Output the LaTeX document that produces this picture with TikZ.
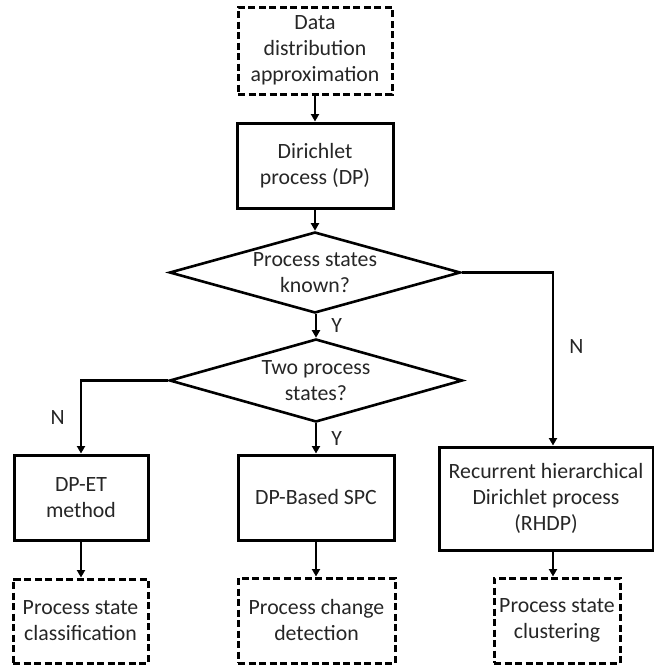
\documentclass[tikz,border=0pt]{standalone}
\usepackage{fontspec}
\setmainfont{Carlito}
\usetikzlibrary{shapes.geometric,arrows.meta}
\begin{document}
\begin{tikzpicture}[x=1pt,y=-1pt,
  font=\fontsize{21.8}{26}\selectfont,
  every node/.style={text=black!85},
  stepbox/.style={draw=black, line width=3pt, align=center, inner sep=1pt},
  goalbox/.style={stepbox, dash pattern=on 7pt off 3.5pt},
  decide/.style={shape=diamond, draw=black, line width=2.6pt, inner sep=0pt},
  flow/.style={draw=black, line width=2.6pt, -{Triangle[length=7.5pt,width=8pt]}},
  branch/.style={inner sep=1pt}]
\useasboundingbox (0,0) rectangle (654,665);

% top of the chart
\node[goalbox, minimum width=154pt, minimum height=87pt] (data) at (315,50.5)
  {Data\\distribution\\approximation};
\node[stepbox, minimum width=156pt, minimum height=85pt] (dp) at (315,165.5)
  {Dirichlet\\process (DP)};

% decisions
\node[decide, minimum width=291pt, minimum height=81pt,
  label={[align=center]center:Process states\\known?}] (known) at (315,272.5) {};
\node[decide, minimum width=293pt, minimum height=83pt,
  label={[align=center]center:Two process\\states?}] (two) at (316,380.5) {};

% methods
\node[stepbox, minimum width=134pt, minimum height=85pt] (dpet) at (81,497.5)
  {DP-ET\\method};
\node[stepbox, minimum width=156pt, minimum height=85pt] (spc) at (316,497.5)
  {DP-Based SPC};
\node[stepbox, minimum width=214pt, minimum height=103pt] (rhdp) at (546,498.5)
  {Recurrent hierarchical\\Dirichlet process\\(RHDP)};

% outcomes
\node[goalbox, minimum width=135pt, minimum height=84pt] (cls) at (80.5,621)
  {Process state\\classification};
\node[goalbox, minimum width=157pt, minimum height=85pt] (chg) at (316.5,620.5)
  {Process change\\detection};
\node[goalbox, minimum width=126pt, minimum height=85pt] (clu) at (557,620.5)
  {Process state\\clustering};

\coordinate (rcol) at (553,272.5);

% connectors
\draw[flow] (data.south) -- (dp.north);
\draw[flow] (dp.south) -- (known.north);
\draw[flow] (known.south -| two.north) -- node[branch, right=13pt] {Y} (two.north);
\draw[flow] (known.east) -- (rcol) -- node[branch, pos=0.43, right=14pt] {N} (rcol |- rhdp.north);
\draw[flow] (two.west) -| node[branch, pos=0.75, left=14pt] {N} (dpet.north);
\draw[flow] (two.south) -- node[branch, right=13pt] {Y} (spc.north);
\draw[flow] (dpet.south) -- (cls.north -| dpet.south);
\draw[flow] (spc.south) -- (chg.north -| spc.south);
\draw[flow] (rcol |- rhdp.south) -- (rcol |- clu.north);
\end{tikzpicture}
\end{document}
